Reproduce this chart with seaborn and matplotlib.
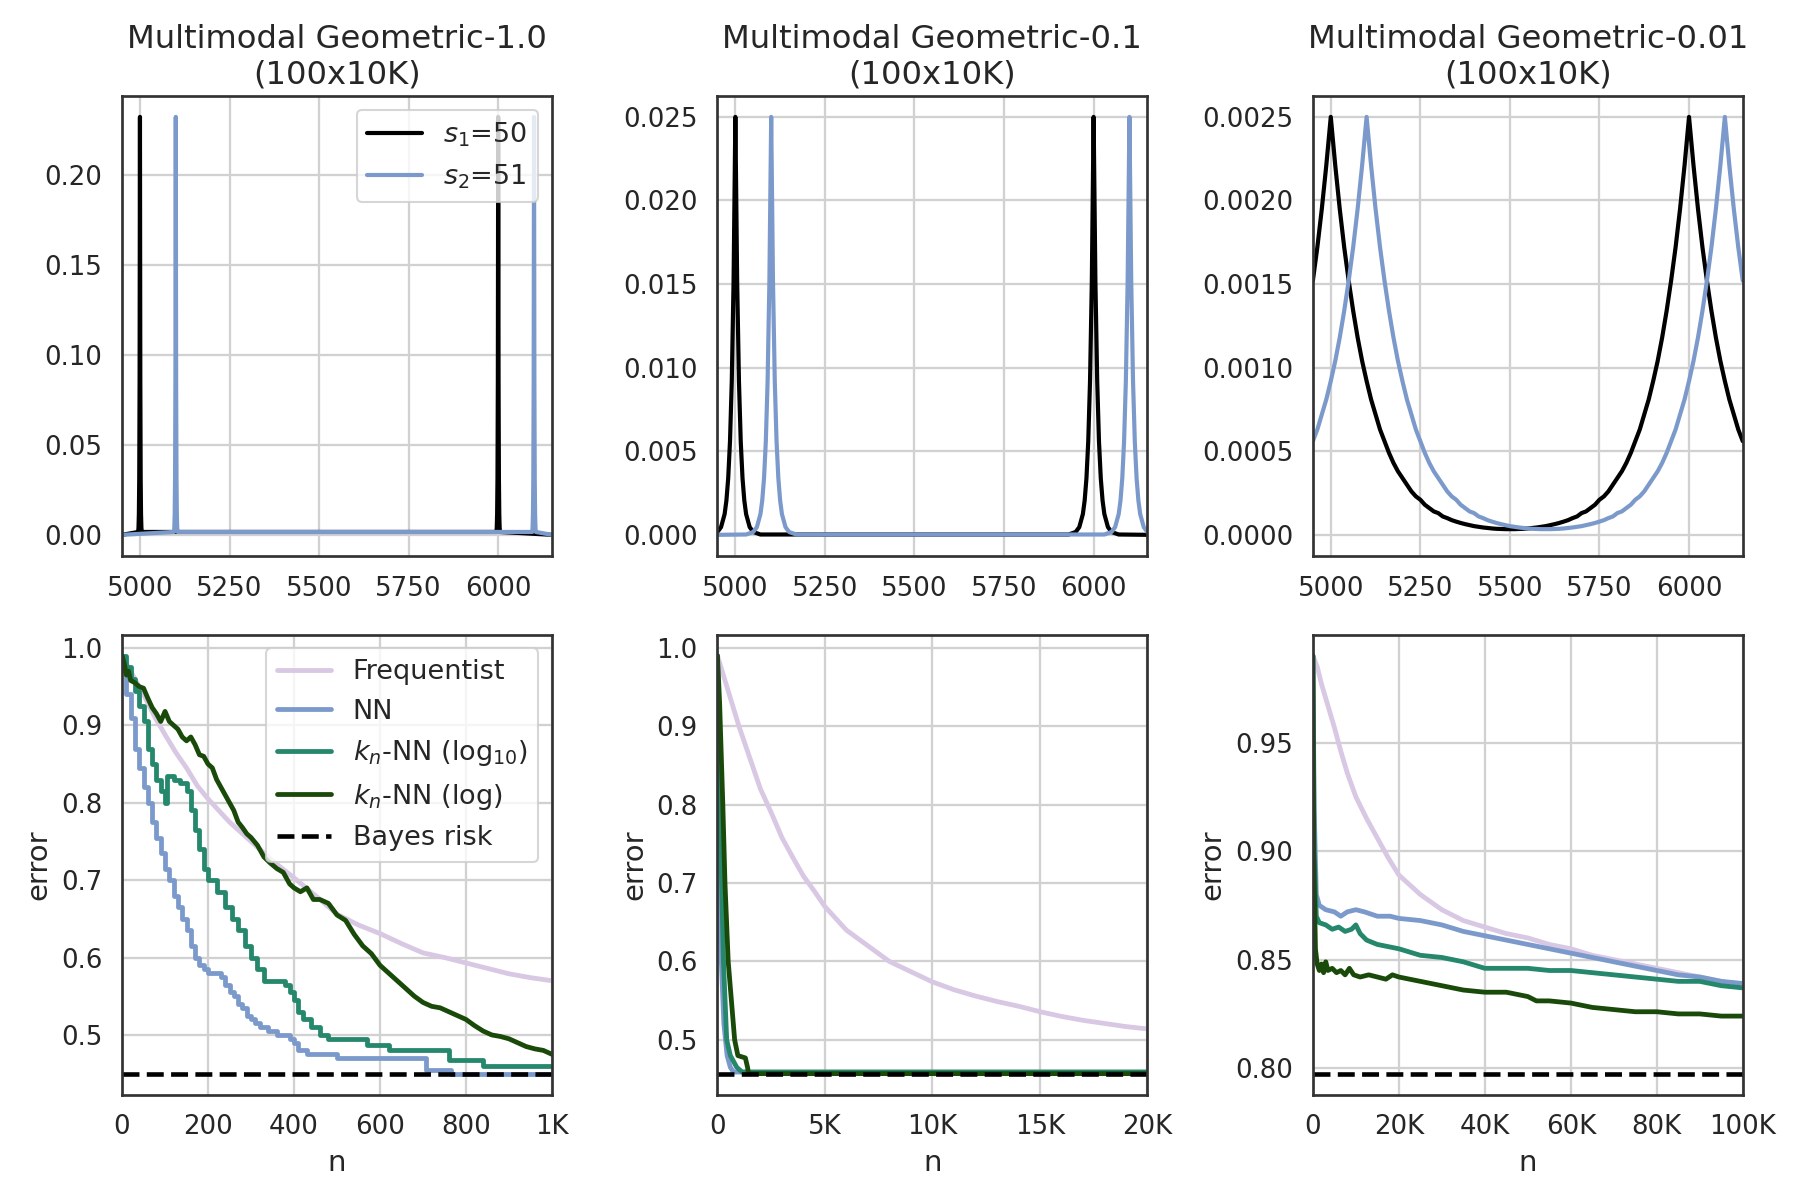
"""Multimodal geometric distributions and error curves."""
import matplotlib
matplotlib.use("Agg")
import matplotlib.pyplot as plt
from matplotlib.ticker import FuncFormatter, MultipleLocator
import seaborn as sns

# ---------------- top row: distributions ----------------
titles = ["Multimodal Geometric-1.0\n(100x10K)",
          "Multimodal Geometric-0.1\n(100x10K)",
          "Multimodal Geometric-0.01\n(100x10K)"]
dist_labels = [r"$s_1$=50", r"$s_2$=51"]

# Geometric-1.0
g1_s1_x = [4950, 4995, 4996, 4997, 4998, 4999, 5000, 5001, 5002, 5003, 5004, 5005,
           5995, 5996, 5997, 5998, 5999, 6000, 6001, 6002, 6003, 6004, 6005, 6150]
g1_s1_y = [0.0, 0.0016, 0.0042, 0.0116, 0.0314, 0.0853, 0.232, 0.0853, 0.0314, 0.0116, 0.0042, 0.0016,
           0.0016, 0.0042, 0.0116, 0.0314, 0.0853, 0.232, 0.0853, 0.0314, 0.0116, 0.0042, 0.0016, 0.0]
g1_s2_x = [4950, 5095, 5096, 5097, 5098, 5099, 5100, 5101, 5102, 5103, 5104, 5105,
           6095, 6096, 6097, 6098, 6099, 6100, 6101, 6102, 6103, 6104, 6105, 6150]
g1_s2_y = [0.0, 0.0016, 0.0042, 0.0116, 0.0314, 0.0853, 0.232, 0.0853, 0.0314, 0.0116, 0.0042, 0.0016,
           0.0016, 0.0042, 0.0116, 0.0314, 0.0853, 0.232, 0.0853, 0.0314, 0.0116, 0.0042, 0.0016, 0.0]

# Geometric-0.1
g2_s1_x = [4950, 4960, 4970, 4975, 4980, 4985, 4990, 4995, 5000, 5005, 5010, 5015, 5020, 5025,
           5030, 5040, 5050, 5070,
           5930, 5950, 5960, 5970, 5975, 5980, 5985, 5990, 5995, 6000, 6005, 6010, 6015, 6020,
           6025, 6030, 6040, 6050, 6070, 6150]
g2_s1_y = [0.00017, 0.00046, 0.00124, 0.00205, 0.00338, 0.00558, 0.0092, 0.01516, 0.025, 0.01516,
           0.0092, 0.00558, 0.00338, 0.00205, 0.00124, 0.00046, 0.00017, 0.00002,
           0.00002, 0.00017, 0.00046, 0.00124, 0.00205, 0.00338, 0.00558, 0.0092, 0.01516, 0.025,
           0.01516, 0.0092, 0.00558, 0.00338, 0.00205, 0.00124, 0.00046, 0.00017, 0.00002, 0.0]
g2_s2_x = [4950, 5030, 5050, 5060, 5070, 5075, 5080, 5085, 5090, 5095, 5100, 5105, 5110, 5115,
           5120, 5125, 5130, 5140, 5150, 5170,
           6030, 6050, 6060, 6070, 6075, 6080, 6085, 6090, 6095, 6100, 6105, 6110, 6115, 6120,
           6125, 6130, 6140, 6150]
g2_s2_y = [0.0, 0.00002, 0.00017, 0.00046, 0.00124, 0.00205, 0.00338, 0.00558, 0.0092, 0.01516,
           0.025, 0.01516, 0.0092, 0.00558, 0.00338, 0.00205, 0.00124, 0.00046, 0.00017, 0.00002,
           0.00002, 0.00017, 0.00046, 0.00124, 0.00205, 0.00338, 0.00558, 0.0092, 0.01516, 0.025,
           0.01516, 0.0092, 0.00558, 0.00338, 0.00205, 0.00124, 0.00046, 0.00017]

# Geometric-0.01 (read every 12.5 along x from 4950 to 6150)
g3_x = [4950, 4962.5, 4975, 4987.5, 5000, 5012.5, 5025, 5037.5, 5050, 5062.5, 5075, 5087.5,
        5100, 5112.5, 5125, 5137.5, 5150, 5162.5, 5175, 5187.5, 5200, 5212.5, 5225, 5237.5,
        5250, 5262.5, 5275, 5287.5, 5300, 5312.5, 5325, 5337.5, 5350, 5362.5, 5375, 5387.5,
        5400, 5412.5, 5425, 5437.5, 5450, 5462.5, 5475, 5487.5, 5500, 5512.5, 5525, 5537.5,
        5550, 5562.5, 5575, 5587.5, 5600, 5612.5, 5625, 5637.5, 5650, 5662.5, 5675, 5687.5,
        5700, 5712.5, 5725, 5737.5, 5750, 5762.5, 5775, 5787.5, 5800, 5812.5, 5825, 5837.5,
        5850, 5862.5, 5875, 5887.5, 5900, 5912.5, 5925, 5937.5, 5950, 5962.5, 5975, 5987.5,
        6000, 6012.5, 6025, 6037.5, 6050, 6062.5, 6075, 6087.5, 6100, 6112.5, 6125, 6137.5, 6150]
g3_s1_y = [0.00152, 0.00172, 0.00195, 0.00221, 0.00250, 0.00221, 0.00195, 0.00172, 0.00152,
           0.00134, 0.00118, 0.00104, 0.00092, 0.00081, 0.00072, 0.00063, 0.00056, 0.00049,
           0.00043, 0.00038, 0.00034, 0.00030, 0.00026, 0.00023, 0.00021, 0.00018, 0.00016,
           0.00014, 0.00013, 0.00011, 0.00010, 0.000088, 0.000079, 0.000071, 0.000064, 0.000058,
           0.000052, 0.000048, 0.000044, 0.000041, 0.000038, 0.000036, 0.000035, 0.000034,
           0.000034, 0.000034, 0.000035, 0.000036, 0.000038, 0.000041, 0.000044, 0.000048,
           0.000052, 0.000058, 0.000064, 0.000071, 0.000079, 0.000088, 0.00010, 0.00011, 0.00013,
           0.00014, 0.00016, 0.00018, 0.00021, 0.00023, 0.00026, 0.00030, 0.00034, 0.00038,
           0.00043, 0.00049, 0.00056, 0.00063, 0.00072, 0.00081, 0.00092, 0.00104, 0.00118,
           0.00134, 0.00152, 0.00172, 0.00195, 0.00221, 0.00250, 0.00221, 0.00195, 0.00172,
           0.00152, 0.00134, 0.00118, 0.00104, 0.00092, 0.00081, 0.00072, 0.00063, 0.00056]
g3_s2_y = [0.00056, 0.00063, 0.00072, 0.00081, 0.00092, 0.00104, 0.00118, 0.00134, 0.00152,
           0.00172, 0.00195, 0.00221, 0.00250, 0.00221, 0.00195, 0.00172, 0.00152, 0.00134,
           0.00118, 0.00104, 0.00092, 0.00081, 0.00072, 0.00063, 0.00056, 0.00049, 0.00043,
           0.00038, 0.00034, 0.00030, 0.00026, 0.00023, 0.00021, 0.00018, 0.00016, 0.00014,
           0.00013, 0.00011, 0.00010, 0.000088, 0.000079, 0.000071, 0.000064, 0.000058,
           0.000052, 0.000048, 0.000044, 0.000041, 0.000038, 0.000036, 0.000035, 0.000034,
           0.000034, 0.000034, 0.000035, 0.000036, 0.000038, 0.000041, 0.000044, 0.000048,
           0.000052, 0.000058, 0.000064, 0.000071, 0.000079, 0.000088, 0.00010, 0.00011, 0.00013,
           0.00014, 0.00016, 0.00018, 0.00021, 0.00023, 0.00026, 0.00030, 0.00034, 0.00038,
           0.00043, 0.00049, 0.00056, 0.00063, 0.00072, 0.00081, 0.00092, 0.00104, 0.00118,
           0.00134, 0.00152, 0.00172, 0.00195, 0.00221, 0.00250, 0.00221, 0.00195, 0.00172, 0.00152]

# ---------------- bottom row: error curves ----------------
err_labels = ["Frequentist", "NN", r"$k_n$-NN (log$_{10}$)", r"$k_n$-NN (log)", "Bayes risk"]
bayes_risk = [0.45, 0.456, 0.7975]
n_max = [1000, 20000, 100000]

# 1K panel
a_freq_n = [0, 25, 50, 75, 100, 125, 150, 175, 200, 250, 300, 350, 400, 450, 500, 550, 600,
            650, 700, 750, 800, 850, 900, 950, 1000]
a_freq_e = [0.99, 0.965, 0.94, 0.912, 0.888, 0.865, 0.845, 0.822, 0.805, 0.775, 0.75, 0.725,
            0.703, 0.68, 0.656, 0.642, 0.631, 0.618, 0.606, 0.60, 0.593, 0.586, 0.579, 0.574, 0.570]
a_nn_n = [0, 10, 20, 30, 40, 50, 60, 70, 80, 90, 100, 110, 120, 130, 140, 150, 160, 170, 180,
          190, 200, 230, 240, 250, 260, 270, 280, 290, 300, 310, 320, 340, 360, 390, 400, 410,
          430, 500, 708, 766, 1000]
a_nn_e = [0.97, 0.94, 0.91, 0.87, 0.845, 0.82, 0.80, 0.775, 0.755, 0.735, 0.715, 0.70, 0.68,
          0.665, 0.65, 0.635, 0.615, 0.60, 0.59, 0.585, 0.58, 0.575, 0.565, 0.555, 0.55, 0.54,
          0.535, 0.525, 0.52, 0.515, 0.51, 0.505, 0.50, 0.495, 0.49, 0.48, 0.475, 0.47, 0.455,
          0.45, 0.45]
a_k10_n = [0, 10, 20, 30, 40, 50, 60, 70, 80, 90, 100, 105, 120, 135, 150, 160, 170, 180, 190,
           200, 220, 240, 255, 270, 285, 300, 315, 330, 380, 390, 400, 410, 420, 440, 460, 480,
           570, 620, 760, 840, 1000]
a_k10_e = [0.99, 0.975, 0.96, 0.945, 0.925, 0.905, 0.87, 0.85, 0.83, 0.815, 0.80, 0.835, 0.83,
           0.825, 0.815, 0.79, 0.765, 0.74, 0.715, 0.70, 0.685, 0.665, 0.65, 0.635, 0.615, 0.60,
           0.585, 0.57, 0.565, 0.555, 0.545, 0.53, 0.52, 0.51, 0.50, 0.495, 0.487, 0.48, 0.467,
           0.46, 0.46]
a_kl_n = [0, 5, 10, 15, 20, 30, 40, 50, 60, 70, 80, 90, 100, 110, 120, 130, 140, 150, 160, 170,
          180, 190, 200, 210, 220, 230, 240, 250, 260, 270, 280, 290, 300, 315, 330, 345, 360,
          375, 390, 400, 415, 430, 445, 460, 480, 500, 520, 540, 560, 580, 600, 620, 640, 660,
          680, 700, 720, 740, 760, 780, 800, 820, 840, 860, 880, 900, 920, 940, 960, 980, 1000]
a_kl_e = [0.99, 0.98, 0.965, 0.97, 0.958, 0.955, 0.95, 0.948, 0.935, 0.923, 0.915, 0.905, 0.918,
          0.905, 0.90, 0.895, 0.885, 0.88, 0.885, 0.875, 0.862, 0.86, 0.85, 0.845, 0.83, 0.82,
          0.81, 0.80, 0.79, 0.775, 0.768, 0.76, 0.755, 0.745, 0.73, 0.722, 0.715, 0.71, 0.695,
          0.69, 0.685, 0.69, 0.675, 0.675, 0.67, 0.655, 0.648, 0.63, 0.615, 0.605, 0.59, 0.58,
          0.57, 0.56, 0.55, 0.542, 0.537, 0.535, 0.53, 0.525, 0.52, 0.512, 0.505, 0.50, 0.498,
          0.495, 0.49, 0.485, 0.482, 0.48, 0.475]

# 20K panel
b_freq_n = [0, 500, 1000, 1500, 2000, 2500, 3000, 3500, 4000, 4500, 5000, 6000, 7000, 8000,
            9000, 10000, 11000, 12000, 13000, 14000, 15000, 16000, 17000, 18000, 19000, 20000]
b_freq_e = [0.99, 0.945, 0.90, 0.86, 0.82, 0.79, 0.758, 0.733, 0.709, 0.69, 0.67, 0.64, 0.62,
            0.60, 0.587, 0.574, 0.564, 0.556, 0.549, 0.543, 0.536, 0.530, 0.525, 0.521, 0.517, 0.514]
b_nn_n = [0, 50, 150, 300, 450, 600, 750, 20000]
b_nn_e = [0.97, 0.80, 0.62, 0.52, 0.48, 0.465, 0.459, 0.459]
b_k10_n = [0, 80, 150, 280, 430, 600, 900, 1150, 20000]
b_k10_e = [0.99, 0.85, 0.75, 0.60, 0.50, 0.48, 0.465, 0.459, 0.459]
b_kl_n = [0, 100, 250, 350, 500, 650, 800, 950, 1300, 1400, 1450, 20000]
b_kl_e = [0.99, 0.93, 0.80, 0.70, 0.60, 0.55, 0.50, 0.48, 0.477, 0.465, 0.457, 0.457]

# 100K panel
c_freq_n = [0, 1000, 2000, 3500, 5000, 6500, 8000, 10000, 12500, 15000, 17500, 20000, 25000,
            30000, 35000, 40000, 45000, 50000, 55000, 60000, 65000, 70000, 75000, 80000, 85000,
            90000, 95000, 100000]
c_freq_e = [0.99, 0.985, 0.977, 0.967, 0.957, 0.946, 0.936, 0.925, 0.915, 0.906, 0.897, 0.889,
            0.880, 0.873, 0.868, 0.865, 0.862, 0.860, 0.857, 0.855, 0.852, 0.850, 0.848, 0.846,
            0.844, 0.842, 0.840, 0.838]
c_nn_n = [0, 300, 800, 1500, 3000, 5000, 6500, 8000, 10000, 12000, 15000, 18000, 20000, 25000,
          30000, 35000, 40000, 45000, 50000, 55000, 60000, 65000, 70000, 75000, 80000, 85000,
          90000, 95000, 100000]
c_nn_e = [0.99, 0.92, 0.88, 0.875, 0.873, 0.872, 0.870, 0.872, 0.873, 0.872, 0.870, 0.870,
          0.869, 0.868, 0.866, 0.863, 0.861, 0.859, 0.857, 0.855, 0.853, 0.851, 0.849, 0.847,
          0.845, 0.843, 0.842, 0.840, 0.839]
c_k10_n = [0, 300, 800, 1500, 3000, 4500, 6000, 7500, 9000, 10000, 11000, 12500, 15000, 17500,
           20000, 25000, 30000, 35000, 40000, 45000, 50000, 55000, 60000, 65000, 70000, 75000,
           80000, 85000, 90000, 95000, 100000]
c_k10_e = [0.99, 0.90, 0.87, 0.867, 0.866, 0.864, 0.865, 0.863, 0.864, 0.866, 0.862, 0.859,
           0.857, 0.856, 0.855, 0.852, 0.851, 0.849, 0.846, 0.846, 0.846, 0.845, 0.845, 0.844,
           0.843, 0.842, 0.841, 0.840, 0.840, 0.838, 0.837]
c_kl_n = [0, 200, 600, 1000, 1500, 2000, 2500, 3000, 3500, 4500, 5500, 6500, 7500, 8500, 9500,
          11000, 13000, 15000, 17000, 18500, 20000, 22500, 25000, 27500, 30000, 35000, 40000,
          45000, 50000, 52000, 55000, 60000, 65000, 70000, 75000, 80000, 85000, 90000, 95000,
          100000]
c_kl_e = [0.99, 0.90, 0.855, 0.848, 0.845, 0.848, 0.844, 0.849, 0.845, 0.846, 0.844, 0.845,
          0.843, 0.846, 0.843, 0.842, 0.843, 0.842, 0.841, 0.843, 0.842, 0.841, 0.840, 0.839,
          0.838, 0.836, 0.835, 0.835, 0.833, 0.831, 0.831, 0.830, 0.828, 0.827, 0.826, 0.826,
          0.825, 0.825, 0.824, 0.824]

DIST_COLORS = ["black", "#7b9acb"]
ERR_COLORS = ["#d8c8e3", "#7b9acb", "#25876b", "#1a4a0a"]

sns.set_theme(style="whitegrid", rc={
    "axes.edgecolor": ".2",
    "axes.linewidth": 1.3,
    "grid.color": ".82",
    "grid.linewidth": 1.1,
    "xtick.labelsize": 12.5,
    "ytick.labelsize": 12.5,
    "axes.labelsize": 14,
    "axes.titlesize": 15.5,
    "legend.fontsize": 13,
})
plt.rcParams["font.family"] = ["DejaVu Sans"]

fig, axes = plt.subplots(2, 3, figsize=(12, 8), dpi=150)
fig.subplots_adjust(left=0.0678, right=0.9682, top=0.92, bottom=0.0879,
                    wspace=0.385, hspace=0.172)

top_data = [
    [(g1_s1_x, g1_s1_y), (g1_s2_x, g1_s2_y)],
    [(g2_s1_x, g2_s1_y), (g2_s2_x, g2_s2_y)],
    [(g3_x, g3_s1_y), (g3_x, g3_s2_y)],
]
for i, ax in enumerate(axes[0]):
    for (xs, ys), lab, col in zip(top_data[i], dist_labels, DIST_COLORS):
        sns.lineplot(x=xs, y=ys, ax=ax, color=col, lw=2.0, label=lab,
                     estimator=None, sort=False)
    ax.set_title(titles[i])
    ax.set_xlim(4950, 6150)
    ax.xaxis.set_major_locator(MultipleLocator(250))
    if i == 0:
        ax.legend(loc="upper right", frameon=True)
    else:
        ax.get_legend().remove()
axes[0, 2].set_ylim(-0.000125, 0.002625)


def k_fmt(v, _):
    if v == 0:
        return "0"
    if v >= 1000:
        return f"{v / 1000:g}K"
    return f"{v:g}"


bottom_data = [
    [(a_freq_n, a_freq_e), (a_nn_n, a_nn_e), (a_k10_n, a_k10_e), (a_kl_n, a_kl_e)],
    [(b_freq_n, b_freq_e), (b_nn_n, b_nn_e), (b_k10_n, b_k10_e), (b_kl_n, b_kl_e)],
    [(c_freq_n, c_freq_e), (c_nn_n, c_nn_e), (c_k10_n, c_k10_e), (c_kl_n, c_kl_e)],
]
steps = [None, "steps-post", "steps-post", None]
x_steps = [200, 5000, 20000]
for i, ax in enumerate(axes[1]):
    for j, ((xs, ys), lab, col) in enumerate(zip(bottom_data[i], err_labels, ERR_COLORS)):
        kw = {"drawstyle": steps[j]} if (steps[j] and i == 0) else {}
        sns.lineplot(x=xs, y=ys, ax=ax, color=col, lw=2.3, label=lab,
                     estimator=None, sort=False, **kw)
    ax.axhline(bayes_risk[i], color="black", ls="--", lw=2.2, label=err_labels[4])
    ax.set_xlim(0, n_max[i])
    ax.xaxis.set_major_locator(MultipleLocator(x_steps[i]))
    ax.xaxis.set_major_formatter(FuncFormatter(k_fmt))
    ax.set_xlabel("n")
    ax.set_ylabel("error")
    if i == 0:
        ax.legend(loc="upper right", frameon=True)
    else:
        ax.get_legend().remove()

fig.savefig("out.png", dpi=150)
plt.close(fig)
